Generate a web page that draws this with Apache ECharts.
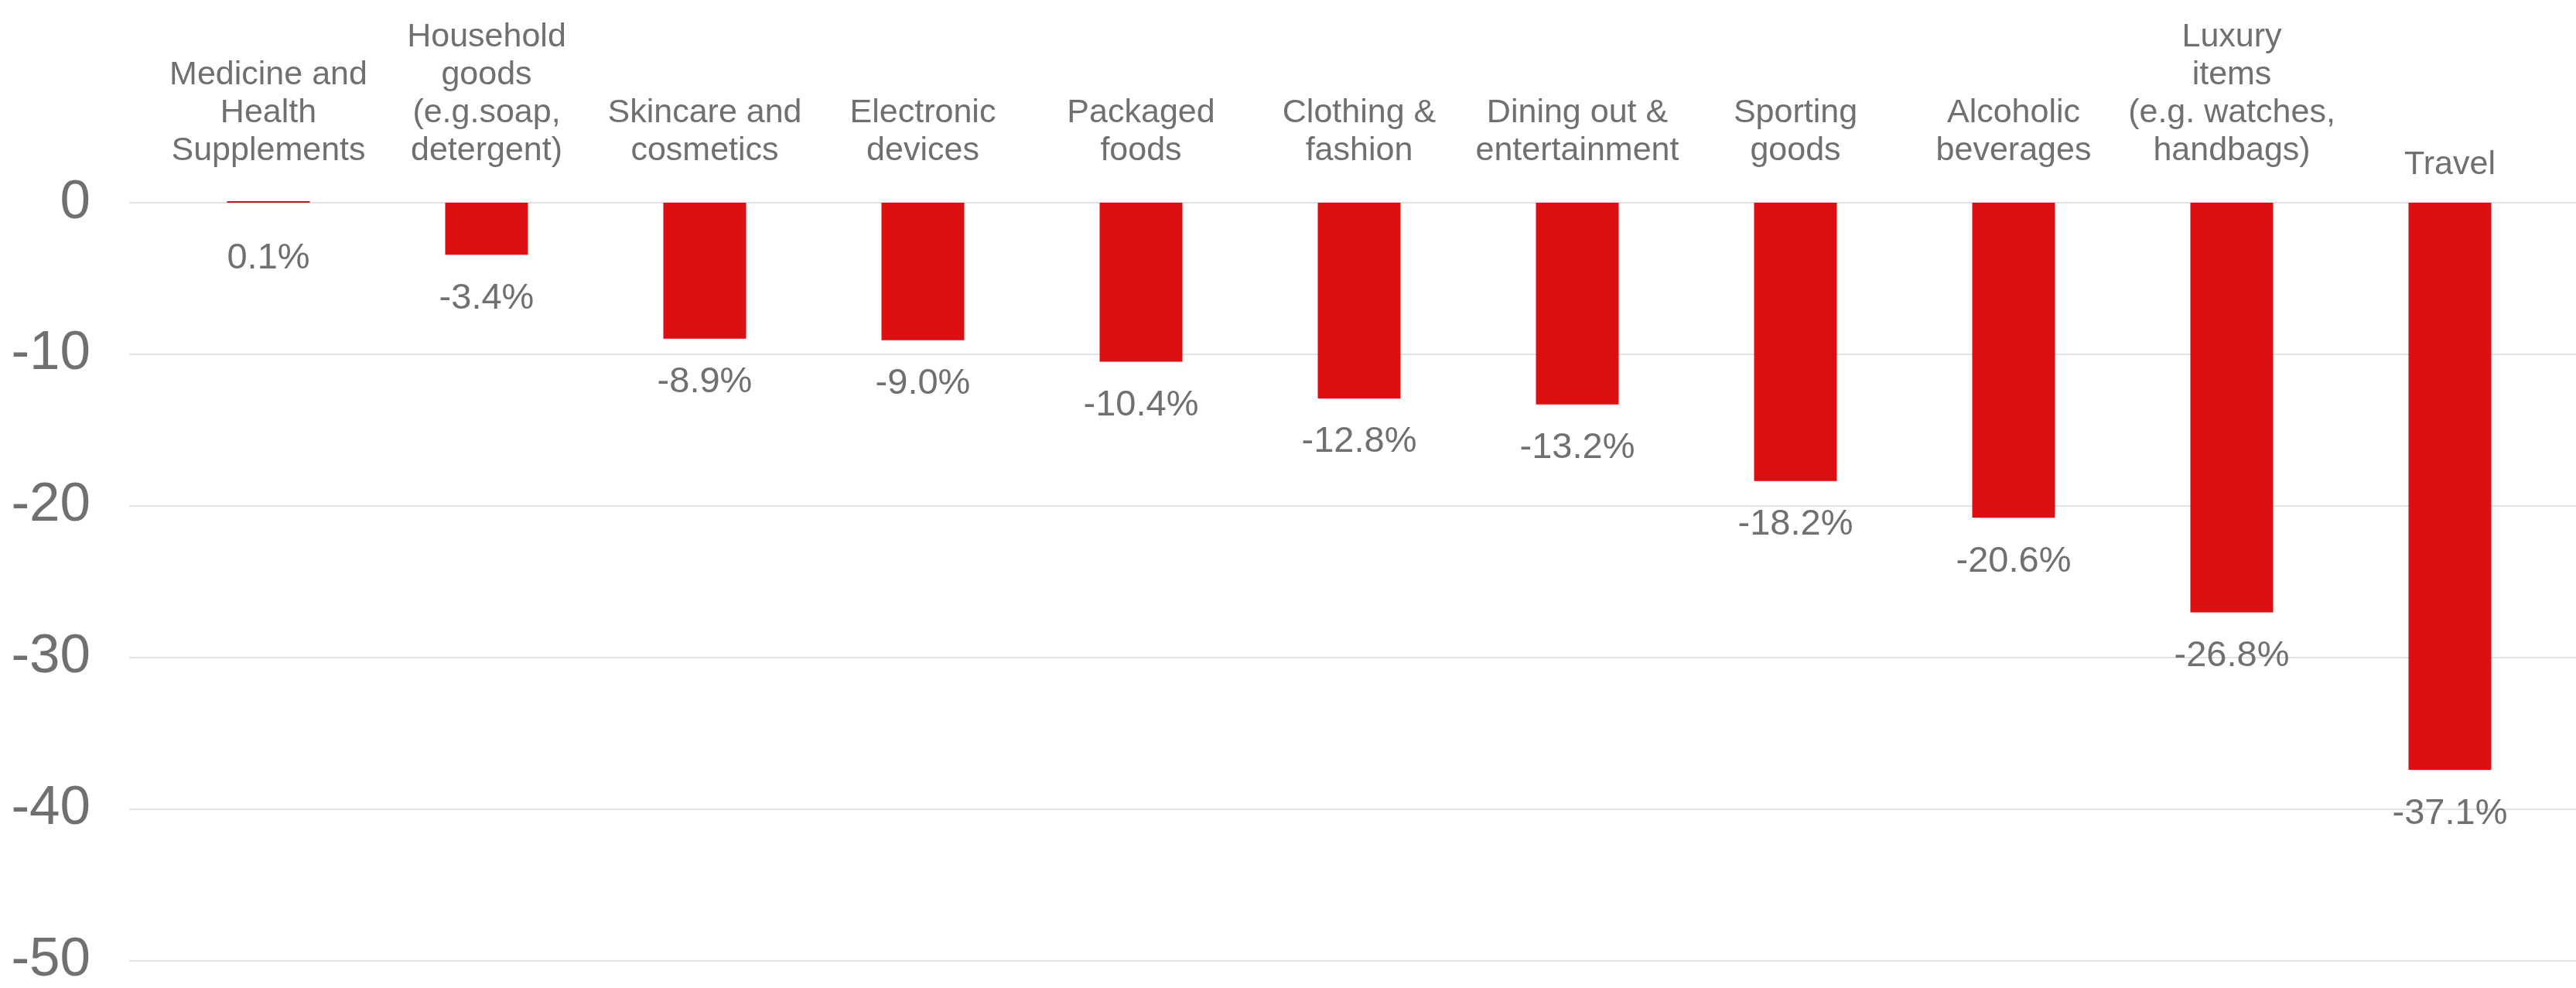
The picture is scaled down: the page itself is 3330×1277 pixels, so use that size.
<!DOCTYPE html>
<html>
<head>
<meta charset="utf-8">
<script src="https://cdn.jsdelivr.net/npm/echarts@6/dist/echarts.min.js"></script>
<style>
  html, body { margin: 0; padding: 0; background: #ffffff; }
  #chart { width: 3330px; height: 1277px; }
</style>
</head>
<body>
<div id="chart"></div>
<script>
const categories = [
  "Medicine and\nHealth\nSupplements",
  "Household\ngoods\n(e.g.soap,\ndetergent)",
  "Skincare and\ncosmetics",
  "Electronic\ndevices",
  "Packaged\nfoods",
  "Clothing &\nfashion",
  "Dining out &\nentertainment",
  "Sporting\ngoods",
  "Alcoholic\nbeverages",
  "Luxury\nitems\n(e.g. watches,\nhandbags)",
  "Travel"
];
const values = [0.1, -3.4, -8.9, -9.0, -10.4, -12.8, -13.2, -18.2, -20.6, -26.8, -37.1];
const yTicks = [0, -10, -20, -30, -40, -50];

const FONT = '"Liberation Sans", Arial, Helvetica, sans-serif';
const TEXT = '#707070';
const RED = '#DC0F12';

const chart = echarts.init(document.getElementById('chart'), null, { renderer: 'canvas' });

const yMin = yTicks[yTicks.length - 1];
const yMax = yTicks[0];

const option = {
  backgroundColor: '#ffffff',
  animation: false,
  grid: [
    { left: 167, right: 0, top: 262, bottom: 27 },
    { left: 206, right: 22, top: 262, bottom: 27 }
  ],
  xAxis: [
    { gridIndex: 0, type: 'value', show: false, min: 0, max: 1 },
    {
      gridIndex: 1,
      type: 'category',
      position: 'top',
      data: categories.map(c => c === 'Travel'
        ? { value: c, textStyle: { lineHeight: 14 } }
        : c),
      axisLine: { show: false },
      axisTick: { show: false },
      axisLabel: {
        interval: 0,
        margin: 42,
        fontFamily: FONT,
        fontSize: 43,
        lineHeight: 49,
        color: TEXT,
        align: 'center'
      }
    }
  ],
  yAxis: [
    {
      gridIndex: 0,
      type: 'value',
      min: yMin,
      max: yMax,
      interval: 10,
      axisLine: { show: false },
      axisTick: { show: false },
      axisLabel: {
        margin: 50,
        fontFamily: FONT,
        fontSize: 71,
        color: TEXT,
        padding: [0, 0, 18, 0]
      },
      splitLine: { lineStyle: { color: '#e2e2e2', width: 2 } }
    },
    {
      gridIndex: 1,
      type: 'value',
      min: yMin,
      max: yMax,
      interval: 10,
      show: false,
      splitLine: { show: false }
    }
  ],
  series: [
    {
      type: 'bar',
      xAxisIndex: 1,
      yAxisIndex: 1,
      barWidth: 107,
      clip: false,
      itemStyle: { color: RED },
      data: values.map((v, i) => i === 0 ? { value: v, label: { distance: 49 } } : v),
      label: {
        show: true,
        position: 'bottom',
        distance: 33,
        fontFamily: FONT,
        fontSize: 47,
        color: TEXT,
        formatter: p => Number(p.value).toFixed(1) + '%'
      }
    }
  ]
};

chart.setOption(option);
</script>
</body>
</html>
